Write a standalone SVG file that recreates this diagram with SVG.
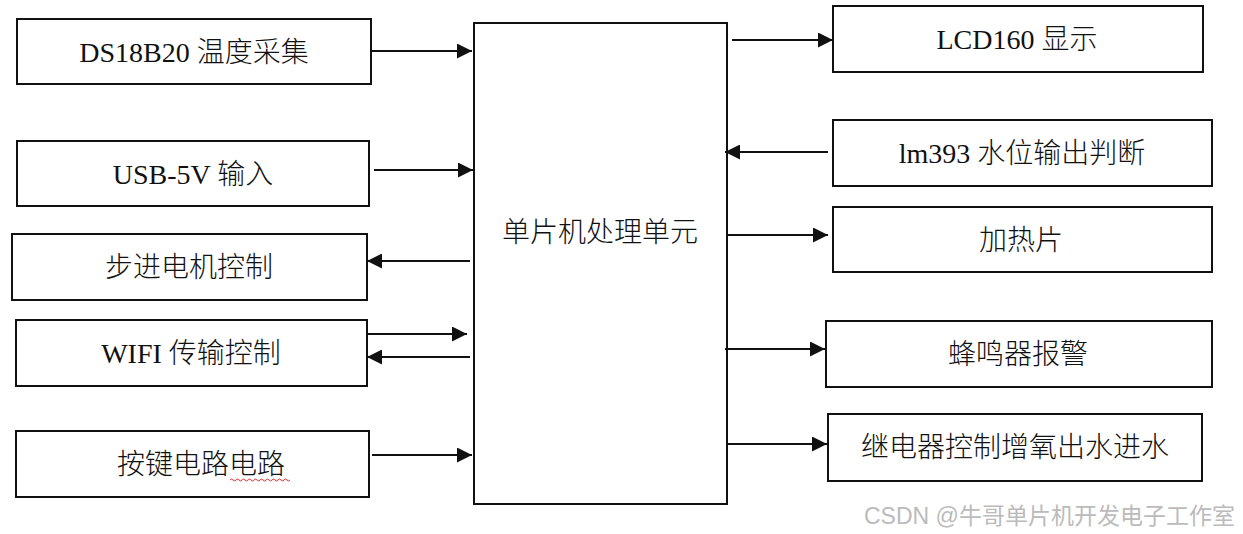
<svg xmlns="http://www.w3.org/2000/svg" width="1243" height="534" viewBox="0 0 1243 534">
<style>
.box{fill:#fff;stroke:#111;stroke-width:2}
.lbl{font-family:"Liberation Serif","Noto Sans CJK SC",serif;font-size:28px;font-weight:300;fill:#111;text-anchor:middle}
.con{stroke:#111;stroke-width:2;fill:none;marker-end:url(#ah)}
.wm{font-family:"Liberation Sans","Noto Sans CJK SC",sans-serif;font-size:23px;fill:#bbb}
</style>
<defs>
<marker id="ah" viewBox="0 0 15 15" refX="15" refY="7.5" markerWidth="15" markerHeight="15" markerUnits="userSpaceOnUse" orient="auto">
<path d="M0,0 L15,7.5 L0,15 Z" fill="#111"/>
</marker>
</defs>
<rect width="1243" height="534" fill="#fff"/>
<g id="mcu"><rect class="box" x="474" y="23" width="253" height="481"/><text class="lbl" x="600" y="242">单片机处理单元</text></g>
<g id="ds18b20"><rect class="box" x="17" y="19" width="354" height="65"/><text class="lbl" x="194" y="62">DS18B20 温度采集</text></g>
<g id="usb"><rect class="box" x="17" y="141" width="352" height="65"/><text class="lbl" x="193" y="184">USB-5V 输入</text></g>
<g id="stepper"><rect class="box" x="12" y="234" width="355" height="66"/><text class="lbl" x="189" y="277">步进电机控制</text></g>
<g id="wifi"><rect class="box" x="16" y="320" width="351" height="66"/><text class="lbl" x="191" y="363">WIFI 传输控制</text></g>
<g id="keys"><rect class="box" x="16" y="431" width="353" height="66"/><text class="lbl" x="201" y="474">按键电路电路</text><path d="M230,480 q1.5,-2 3,0 t3,0 t3,0 t3,0 t3,0 t3,0 t3,0 t3,0 t3,0 t3,0 t3,0 t3,0 t3,0 t3,0 t3,0 t3,0 t3,0 t3,0 t3,0 t3,0" fill="none" stroke="#e03030" stroke-width="1"/></g>
<g id="lcd"><rect class="box" x="833" y="6" width="370" height="66"/><text class="lbl" x="1017" y="49">LCD160 显示</text></g>
<g id="lm393"><rect class="box" x="833" y="120" width="379" height="66"/><text class="lbl" x="1022" y="163">lm393 水位输出判断</text></g>
<g id="heater"><rect class="box" x="833" y="207" width="379" height="65"/><text class="lbl" x="1021" y="250">加热片</text></g>
<g id="buzzer"><rect class="box" x="826" y="321" width="386" height="66"/><text class="lbl" x="1018" y="364">蜂鸣器报警</text></g>
<g id="relay"><rect class="box" x="828" y="414" width="374" height="67"/><text class="lbl" x="1015" y="457">继电器控制增氧出水进水</text></g>
<g id="connectors">
<line class="con" x1="372" y1="51" x2="472" y2="51"/>
<line class="con" x1="374" y1="170" x2="473" y2="170"/>
<line class="con" x1="470" y1="261" x2="367" y2="261"/>
<line class="con" x1="367" y1="334" x2="467" y2="334"/>
<line class="con" x1="470" y1="357" x2="367" y2="357"/>
<line class="con" x1="372" y1="455" x2="472" y2="455"/>
<line class="con" x1="732" y1="40" x2="833" y2="40"/>
<line class="con" x1="828" y1="152" x2="725" y2="152"/>
<line class="con" x1="727" y1="235" x2="828" y2="235"/>
<line class="con" x1="725" y1="349" x2="825" y2="349"/>
<line class="con" x1="727" y1="444" x2="827" y2="444"/>
</g>
<text class="wm" x="864" y="524">CSDN @牛哥单片机开发电子工作室</text>
</svg>
